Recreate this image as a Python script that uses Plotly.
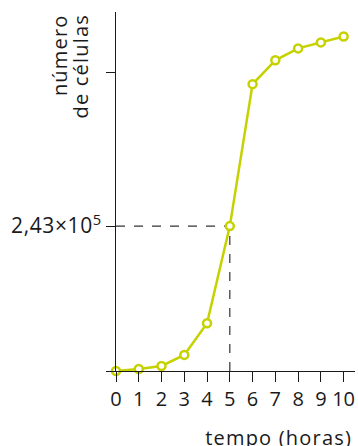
import plotly.graph_objects as go

horas = [0, 1, 2, 3, 4, 5, 6, 7, 8, 9, 10]
celulas = [0, 3.4e3, 8.4e3, 2.7e4, 8.0e4, 2.43e5, 4.81e5, 5.21e5, 5.41e5, 5.51e5, 5.61e5]
x_ticks = list(range(0, 11))
y_ticks = [0, 2.43e5, 5.0e5]
y_ticktext = ["", "2,43×10<sup>5</sup>", ""]
ref_x = 5
ref_y = 2.43e5

line_color = "#c5d200"
font_family = "Open Sans, DejaVu Sans, sans-serif"

fig = go.Figure()
fig.add_trace(go.Scatter(
    x=horas, y=celulas, mode="lines+markers",
    line=dict(color=line_color, width=2.5),
    marker=dict(size=8, color="white", line=dict(color=line_color, width=2.5)),
    cliponaxis=False, showlegend=False, hoverinfo="skip",
))

fig.add_shape(type="line", xref="x", yref="y", x0=0, x1=ref_x, y0=ref_y, y1=ref_y,
              line=dict(color="#333333", width=1.2, dash="dash"), layer="below")
fig.add_shape(type="line", xref="x", yref="y", x0=ref_x, x1=ref_x, y0=0, y1=ref_y,
              line=dict(color="#333333", width=1.2, dash="dash"), layer="below")

fig.update_layout(
    width=358, height=446,
    margin=dict(l=116, r=3, t=12, b=75),
    paper_bgcolor="white", plot_bgcolor="white",
    font=dict(family=font_family, color="#1a1a1a"),
    xaxis=dict(range=[0, 10.5], tickvals=x_ticks, ticks="outside", ticklen=10,
               tickcolor="#1a1a1a", tickwidth=1, showline=True, linecolor="#1a1a1a",
               linewidth=1, showgrid=False, zeroline=False,
               tickfont=dict(size=20, family=font_family)),
    yaxis=dict(range=[0, 6.02e5], tickvals=y_ticks, ticktext=y_ticktext,
               ticks="outside", ticklen=9, tickcolor="#1a1a1a", tickwidth=1,
               showline=True, linecolor="#1a1a1a", linewidth=1, showgrid=False,
               zeroline=False, tickfont=dict(size=21, family=font_family)),
    annotations=[
        dict(text="tempo (horas)", xref="paper", yref="paper", x=0.68, y=0,
             yshift=-66, xanchor="center", yanchor="middle", showarrow=False,
             font=dict(size=20, family=font_family)),
        dict(text="número", xref="paper", yref="paper", x=0, y=1,
             xshift=-57, yshift=-43.5, xanchor="center", yanchor="middle",
             textangle=-90, showarrow=False,
             font=dict(size=20, family=font_family)),
        dict(text="de células", xref="paper", yref="paper", x=0, y=1,
             xshift=-36, yshift=-54.5, xanchor="center", yanchor="middle",
             textangle=-90, showarrow=False,
             font=dict(size=20, family=font_family)),
    ],
)

post = (
    "document.body.style.margin='0';document.body.style.padding='0';"
    "document.querySelectorAll('.annotation-text').forEach(function(e){e.style.letterSpacing='1.2px';});"
    "document.querySelectorAll('.ytick text').forEach(function(e){e.style.letterSpacing='0.6px';});"
)
fig.write_html("out.html", post_script=post, config={"displayModeBar": False})
